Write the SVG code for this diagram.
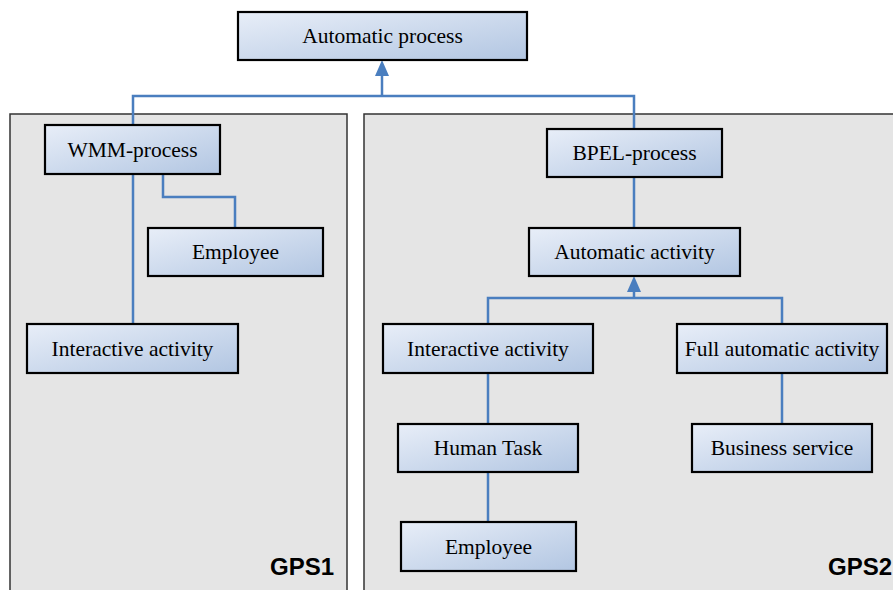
<svg xmlns="http://www.w3.org/2000/svg" width="893" height="590" viewBox="0 0 893 590">
  <defs>
    <linearGradient id="boxFill" x1="0" y1="0" x2="1" y2="1">
      <stop offset="0" stop-color="#e8eef8"/>
      <stop offset="1" stop-color="#b2c6e2"/>
    </linearGradient>
    <marker id="arrowUp" markerUnits="userSpaceOnUse" markerWidth="16" markerHeight="14" refX="0" refY="7" orient="auto">
      <path d="M0,0 L16,7 L0,14 z" fill="#4a7ebf"/>
    </marker>
  </defs>
  <style>
    .panel { fill: #e5e5e5; stroke: #333333; stroke-width: 1.5; }
    .box { fill: url(#boxFill); stroke: #000000; stroke-width: 2.2; }
    .lbl { font-family: "Liberation Serif", "Times New Roman", serif; font-size: 21.5px; fill: #000000; text-anchor: middle; }
    .tag { font-family: "Liberation Sans", Arial, sans-serif; font-size: 24px; font-weight: bold; fill: #000000; }
    .wire { fill: none; stroke: #4a7ebf; stroke-width: 2.5; }
  </style>

  <rect width="893" height="590" fill="#ffffff"/>

  <!-- system panels -->
  <g id="panel-gps1">
    <rect class="panel" x="10" y="114" width="337" height="500"/>
    <text class="tag" x="270" y="575">GPS1</text>
  </g>
  <g id="panel-gps2">
    <rect class="panel" x="364" y="114" width="560" height="500"/>
    <text class="tag" x="828" y="575">GPS2</text>
  </g>

  <!-- connectors -->
  <g id="connectors">
    <path class="wire" d="M133,125 V96 H634 V129"/>
    <path class="wire" d="M382,96 V76" marker-end="url(#arrowUp)"/>
    <path class="wire" d="M133,174 V324"/>
    <path class="wire" d="M163,174 V197 H235 V228"/>
    <path class="wire" d="M634,177 V228"/>
    <path class="wire" d="M488,324 V298 H782 V324"/>
    <path class="wire" d="M634,298 V292" marker-end="url(#arrowUp)"/>
    <path class="wire" d="M488,373 V424"/>
    <path class="wire" d="M488,472 V522"/>
    <path class="wire" d="M782,373 V424"/>
  </g>

  <!-- nodes -->
  <g id="automatic-process">
    <rect class="box" x="238" y="12" width="289" height="48"/>
    <text class="lbl" x="382.5" y="42.5">Automatic process</text>
  </g>
  <g id="wmm-process">
    <rect class="box" x="45" y="125" width="175" height="49"/>
    <text class="lbl" x="132.5" y="156.5">WMM-process</text>
  </g>
  <g id="employee-gps1">
    <rect class="box" x="148" y="228" width="175" height="48"/>
    <text class="lbl" x="235.5" y="258.5">Employee</text>
  </g>
  <g id="interactive-activity-gps1">
    <rect class="box" x="27" y="324" width="211" height="49"/>
    <text class="lbl" x="132.5" y="355.5">Interactive activity</text>
  </g>
  <g id="bpel-process">
    <rect class="box" x="547" y="129" width="175" height="48"/>
    <text class="lbl" x="634.5" y="159.5">BPEL-process</text>
  </g>
  <g id="automatic-activity">
    <rect class="box" x="529" y="228" width="211" height="48"/>
    <text class="lbl" x="634.5" y="258.5">Automatic activity</text>
  </g>
  <g id="interactive-activity-gps2">
    <rect class="box" x="383" y="324" width="210" height="49"/>
    <text class="lbl" x="488" y="355.5">Interactive activity</text>
  </g>
  <g id="full-automatic-activity">
    <rect class="box" x="677" y="324" width="210" height="49"/>
    <text class="lbl" x="782" y="355.5">Full automatic activity</text>
  </g>
  <g id="human-task">
    <rect class="box" x="398" y="424" width="180" height="48"/>
    <text class="lbl" x="488" y="454.5">Human Task</text>
  </g>
  <g id="business-service">
    <rect class="box" x="692" y="424" width="180" height="48"/>
    <text class="lbl" x="782" y="454.5">Business service</text>
  </g>
  <g id="employee-gps2">
    <rect class="box" x="401" y="522" width="175" height="49"/>
    <text class="lbl" x="488.5" y="553.5">Employee</text>
  </g>
</svg>
